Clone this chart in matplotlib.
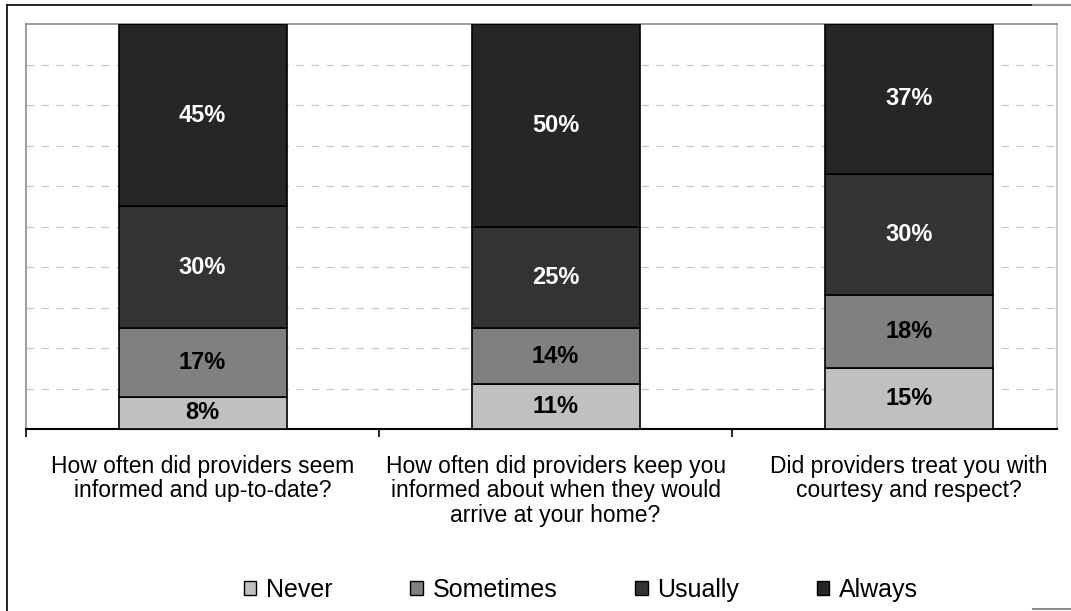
import matplotlib
matplotlib.use("Agg")
import matplotlib.pyplot as plt
from matplotlib.lines import Line2D
from matplotlib.patches import Patch
import numpy as np

plt.rcParams['font.family'] = ['Liberation Sans', 'DejaVu Sans']

categories = [
    "How often did providers seem\ninformed and up-to-date?",
    "How often did providers keep you\ninformed about when they would\narrive at your home?",
    "Did providers treat you with\ncourtesy and respect?",
]
series_names = ["Never", "Sometimes", "Usually", "Always"]
never = [8, 11, 15]
sometimes = [17, 14, 18]
usually = [30, 25, 30]
always = [45, 50, 37]
series_values = [never, sometimes, usually, always]
colors = ["#c0c0c0", "#808080", "#333333", "#262626"]
label_colors = ["black", "black", "white", "white"]

W, H = 1071, 611
fig = plt.figure(figsize=(W / 100, H / 100), dpi=100)
ax = fig.add_axes([26 / W, 1 - 429 / H, (1057 - 26) / W, (429 - 24) / H])

x = np.arange(len(categories))
bottom = np.zeros(len(categories))
for name, vals, c, lc in zip(series_names, series_values, colors, label_colors):
    vals = np.array(vals, dtype=float)
    ax.bar(x, vals, width=0.476, bottom=bottom, color=c, edgecolor="black",
           linewidth=1.2, zorder=3, label=name)
    for xi, b, v in zip(x, bottom, vals):
        ax.text(xi, b + v / 2, f"{int(v)}%", ha="center", va="center",
                color=lc, fontsize=17, fontweight="bold", zorder=4)
    bottom += vals

ax.set_ylim(0, 100)
ax.set_xlim(-0.5, 2.42)
ax.set_yticks(np.arange(10, 100, 10))
ax.yaxis.grid(True, linestyle=(0, (6, 6)), color="#c8c8c8", linewidth=0.9, zorder=0)
ax.tick_params(axis="y", left=False, labelleft=False)

ax.set_xticks([-0.5, 0.5, 1.5], minor=False)
ax.set_xticklabels([])
ax.tick_params(axis="x", which="major", direction="out", length=6, width=1.2, color="black")
ax.set_xticks(x, minor=True)
ax.set_xticklabels(categories, minor=True, fontsize=16.5, linespacing=1.08, va="top")
ax.tick_params(axis="x", which="minor", length=0, pad=18.5)

for s in ["left", "top"]:
    ax.spines[s].set_color("#8c8c8c")
    ax.spines[s].set_linewidth(1.2)
ax.spines["right"].set_color("#c0c0c0")
ax.spines["right"].set_linewidth(1.2)
ax.spines["bottom"].set_color("black")
ax.spines["bottom"].set_linewidth(1.5)

handles = [Patch(facecolor=c, edgecolor="black", linewidth=1.0) for c in colors]
fig.legend(handles, series_names, loc="center", bbox_to_anchor=(581 / W, 1 - 590 / H),
           ncol=4, frameon=False, fontsize=18, handlelength=0.5, handleheight=0.5,
           handletextpad=0.4, columnspacing=3.1)

# outer chart border
fig.add_artist(Line2D([7 / W, 7 / W], [0, 1 - 5 / H], color="black", linewidth=1.2))
fig.add_artist(Line2D([7 / W, 1033 / W], [1 - 5 / H, 1 - 5 / H], color="black", linewidth=1.2))
fig.add_artist(Line2D([1033 / W, 1], [1 - 5 / H, 1 - 5 / H], color="#8c8c8c", linewidth=1.5))
fig.add_artist(Line2D([1033 / W, 1], [1 - 609 / H, 1 - 609 / H], color="#8c8c8c", linewidth=1.5))

fig.savefig("out.png", dpi=100)
